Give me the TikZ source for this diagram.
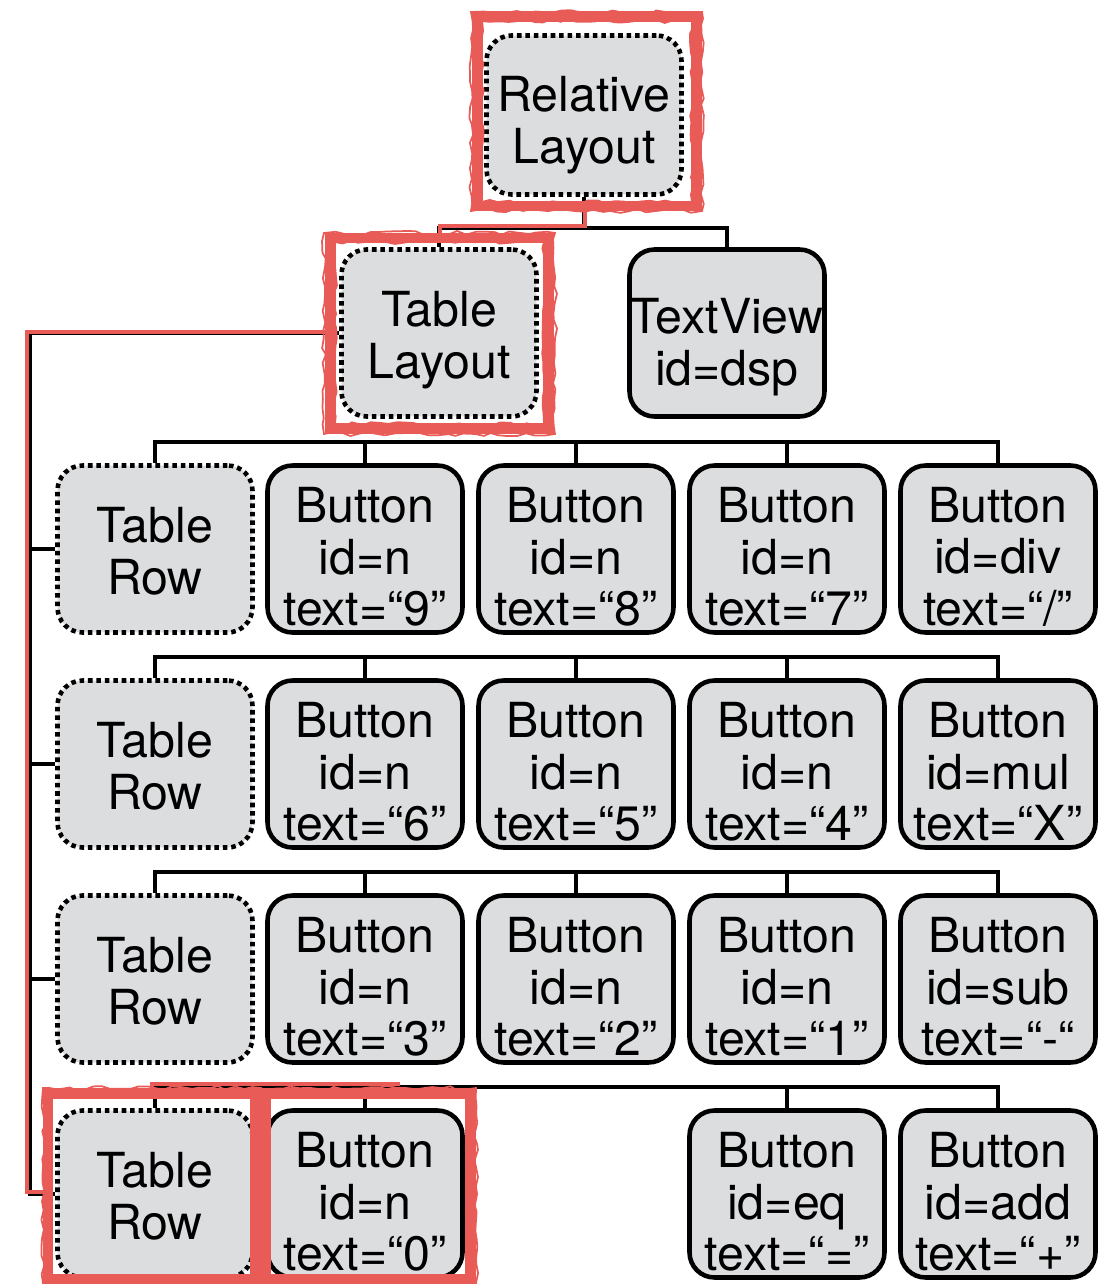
\documentclass[tikz,border=0pt]{standalone}
\usepackage{fontspec}
\setmainfont{TeX Gyre Heros}
\usetikzlibrary{decorations.pathmorphing}
\definecolor{boxgray}{HTML}{DCDDDF}
\definecolor{hlred}{HTML}{E85B57}
\begin{document}
\begin{tikzpicture}[
            x=0.02cm,
            y=-0.02cm,
            lift/.store in=\liftht,
            widget/.style={draw, line width=2.6pt, fill=boxgray, rounded corners=0.5cm,
                minimum width=3.9cm, minimum height=3.34cm, inner sep=0pt, align=center,
                font=\fontsize{27.5pt}{29.5pt}\selectfont, lift=88pt,
                execute at begin node={\rule{0pt}{\liftht}}},
            layout/.style={widget, dash pattern=on 2.6pt off 2.2pt, lift=52pt},
            wire/.style={line width=2.6pt},
            hilite/.style={draw=hlred, line width=0.22cm},
            scribble/.style={draw=hlred, line width=1pt, decorate,
                decoration={random steps, segment length=5pt, amplitude=1.2pt}}
        ]
        \useasboundingbox (0,0) rectangle (1100,1284);

        \node[layout, minimum height=3.18cm, lift=61pt] (RL) at (584,115) {Relative\\Layout};
        \node[layout, lift=57.5pt] (TL) at (439,333) {Table\\Layout};
        \node[widget, lift=65.5pt] (TV) at (727,333) {TextView\\id=dsp};

        \node[layout] (R1) at (155,549) {Table\\Row};
        \node[widget] (B11) at (365,549) {Button\\id=n\\text=“9”};
        \node[widget] (B12) at (576,549) {Button\\id=n\\text=“8”};
        \node[widget] (B13) at (787,549) {Button\\id=n\\text=“7”};
        \node[widget] (B14) at (998,549) {Button\\id=div\\text=“/”};

        \node[layout] (R2) at (155,764) {Table\\Row};
        \node[widget] (B21) at (365,764) {Button\\id=n\\text=“6”};
        \node[widget] (B22) at (576,764) {Button\\id=n\\text=“5”};
        \node[widget] (B23) at (787,764) {Button\\id=n\\text=“4”};
        \node[widget] (B24) at (998,764) {Button\\id=mul\\text=“X”};

        \node[layout] (R3) at (155,979) {Table\\Row};
        \node[widget] (B31) at (365,979) {Button\\id=n\\text=“3”};
        \node[widget] (B32) at (576,979) {Button\\id=n\\text=“2”};
        \node[widget] (B33) at (787,979) {Button\\id=n\\text=“1”};
        \node[widget] (B34) at (998,979) {Button\\id=sub\\text=“-“};

        \node[layout] (R4) at (155,1194) {Table\\Row};
        \node[widget] (B41) at (365,1194) {Button\\id=n\\text=“0”};
        \node[widget] (B43) at (787,1194) {Button\\id=eq\\text=“=”};
        \node[widget] (B44) at (998,1194) {Button\\id=add\\text=“+”};

        % tree wires
        \coordinate (H0) at (584,228);
        \coordinate (V0) at (30,335);
        \coordinate (H1) at (0,442);
        \coordinate (H2) at (0,657);
        \coordinate (H3) at (0,872);
        \coordinate (H4) at (0,1087);
        \draw[wire] (RL.south) -- (H0) -| (TL.north);
        \draw[wire] (H0) -| (TV.north);
        \draw[wire] (TL.west) -- (TL.west -| V0) -- (V0 |- R4.west) -- (R4.west);
        \foreach \r in {R1,R2,R3}
            \draw[wire] (V0 |- \r.west) -- (\r.west);
        \foreach \i in {1,2,3} {
            \draw[wire] (R\i.north) -- (R\i.north |- H\i) -- (B\i4.north |- H\i) -- (B\i4.north);
            \foreach \j in {1,2,3}
                \draw[wire] (B\i\j.north |- H\i) -- (B\i\j.north);
        }
        \draw[wire] (R4.north) -- (R4.north |- H4) -- (B44.north |- H4) -- (B44.north);
        \draw[wire] (B41.north |- H4) -- (B41.north);
        \draw[wire] (B43.north |- H4) -- (B43.north);

        % highlighted path
        \draw[hlred, line width=2.6pt] (585,206) -- (585,226) -- (440,226) -- (440,238);
        \draw[hlred, line width=2.6pt] (330,332) -- (27,332) -- (27,1192) -- (48,1192);
        \draw[hlred, line width=2.6pt] (152,1093) -- (152,1084) -- (400,1084);
        \draw[hilite] (477,17) rectangle (696,206);
        \draw[scribble] (471,12) rectangle (702,211);
        \draw[scribble] (482,21) rectangle (692,202);
        \draw[hilite] (330,238) rectangle (548,428);
        \draw[scribble] (324,233) rectangle (555,434);
        \draw[scribble] (335,242) rectangle (544,424);
        \draw[hilite] (48,1093) rectangle (255,1279);
        \draw[scribble] (43,1088) rectangle (261,1283);
        \draw[hilite] (265,1093) rectangle (470,1279);
        \draw[scribble] (259,1088) rectangle (476,1283);
    \end{tikzpicture}
\end{document}
